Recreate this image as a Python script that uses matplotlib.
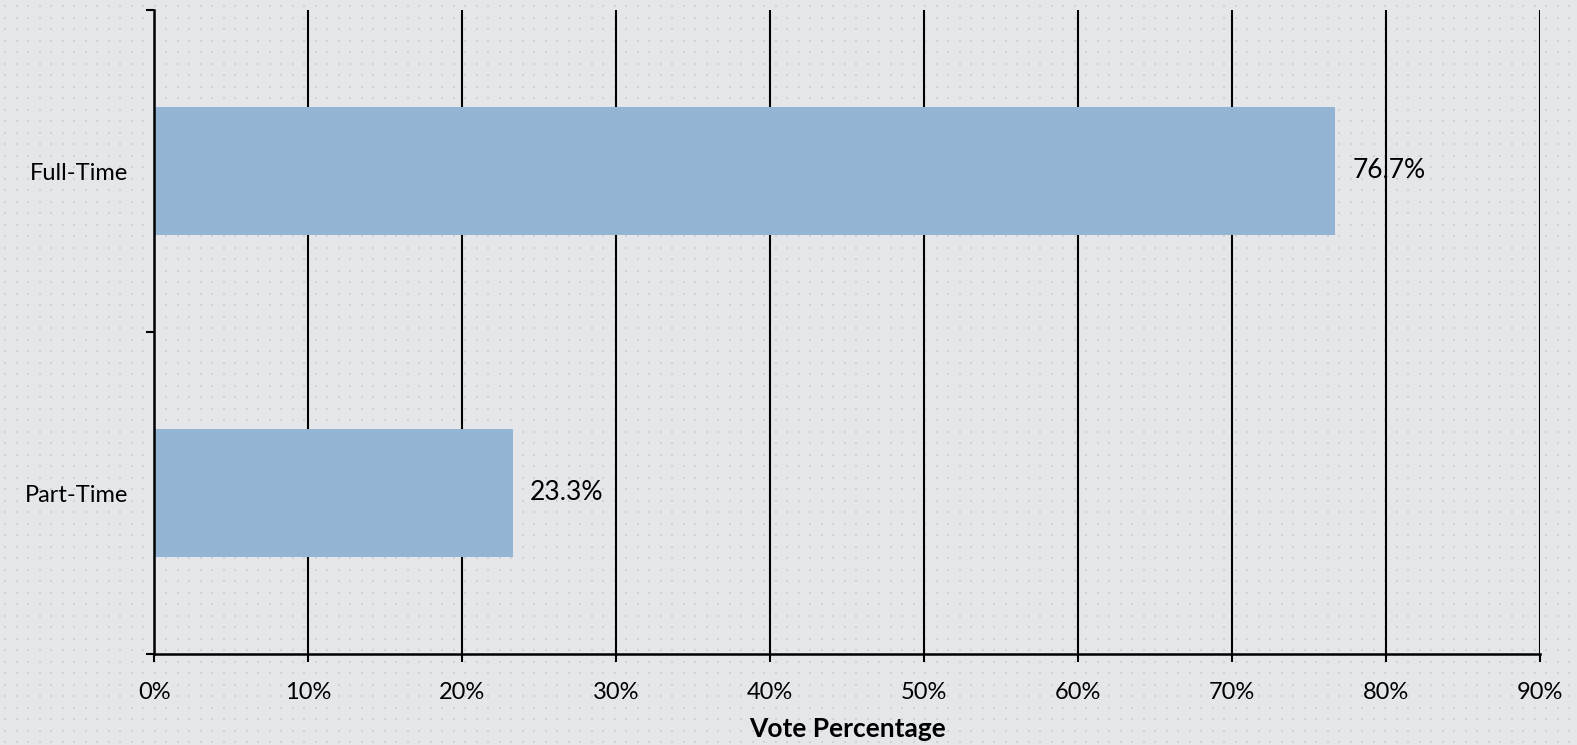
import numpy as np
import matplotlib
matplotlib.use("Agg")
import matplotlib.pyplot as plt
from matplotlib.ticker import PercentFormatter

# data
categories = ["Part-Time", "Full-Time"]
vote_pct = [23.3, 76.7]
x_ticks = [0, 10, 20, 30, 40, 50, 60, 70, 80, 90]

plt.rcParams['font.family'] = ['Lato', 'DejaVu Sans']

bg = '#e4e6e9'
W, H = 1577, 745
fig = plt.figure(figsize=(W / 100, H / 100), dpi=100, facecolor=bg)

# dotted backdrop texture
bgax = fig.add_axes([0, 0, 1, 1], zorder=-1)
bgax.set_xlim(0, W)
bgax.set_ylim(H, 0)
bgax.axis('off')
gx, gy = np.meshgrid(np.arange(5, W, 11.5), np.arange(6, H, 11.5))
bgax.scatter(gx.ravel(), gy.ravel(), s=2.2, marker='s', color='#d0d2d6', linewidths=0)

ax = fig.add_axes([154.3 / W, 1 - 654 / H, (1540 - 154.3) / W, (654 - 10) / H])
ax.set_facecolor('none')

y = np.arange(len(categories))
bars = ax.barh(y, vote_pct, height=0.4, color='#93b5d3', zorder=2)

ax.set_xlim(0, 90)
ax.set_ylim(-0.5, 1.5)
ax.set_xticks(x_ticks)
ax.xaxis.set_major_formatter(PercentFormatter(decimals=0))
ax.set_yticks(y)
ax.set_yticklabels(categories)
ax.set_yticks([-0.5, 0.5, 1.5], minor=True)

ax.grid(axis='x', color='black', linewidth=1.5, zorder=1)
ax.set_axisbelow(True)

for side in ['top', 'right']:
    ax.spines[side].set_visible(False)
for side in ['left', 'bottom']:
    ax.spines[side].set_color('black')
    ax.spines[side].set_linewidth(1.8)
    ax.spines[side].set_zorder(3)

ax.tick_params(axis='x', length=6, width=1.5, pad=14, labelsize=17, colors='black')
ax.tick_params(axis='y', which='major', length=0, pad=19, labelsize=17)
ax.tick_params(axis='y', which='minor', length=6, width=1.5)

for bar, v in zip(bars, vote_pct):
    ax.text(v + 1.1, bar.get_y() + bar.get_height() / 2, f"{v:.1f}%",
            va='center', ha='left', fontsize=19, color='black', zorder=4)

ax.set_xlabel("Vote Percentage", fontsize=19, fontweight='bold', labelpad=10)

fig.savefig("out.png", dpi=100, facecolor=bg)
